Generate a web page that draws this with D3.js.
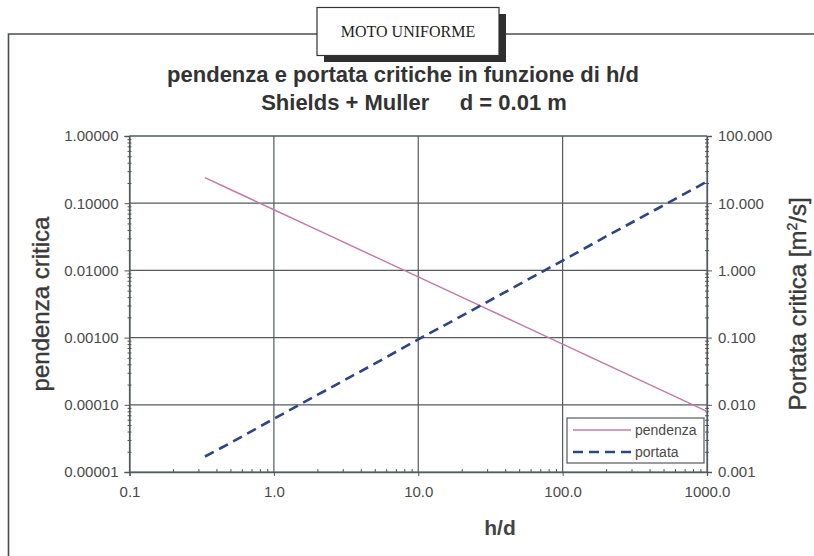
<!DOCTYPE html>
<html>
<head>
<meta charset="utf-8">
<script src="https://cdn.jsdelivr.net/npm/d3@7"></script>
<style>
  body { margin: 0; background: #fff; }
  svg text { font-family: "Liberation Sans", Arial, sans-serif; }
</style>
</head>
<body>
<div id="chart"></div>
<script>
// h/d values and the two curves
const hd       = [0.333, 0.5, 1, 2, 5, 10, 20, 50, 100, 200, 500, 1000]
const pendenza = [0.24, 0.16, 0.08, 0.04, 0.016, 0.008, 0.004, 0.0016, 0.0008, 0.0004, 0.00016, 0.00008]
const portata  = [0.0017, 0.0027, 0.0062, 0.014, 0.041, 0.094, 0.21, 0.62, 1.4, 3.2, 9.3, 21]

const xTicks = [0.1, 1, 10, 100, 1000]
const yLeftTicks = [0.00001, 0.0001, 0.001, 0.01, 0.1, 1]
const yRightTicks = [0.001, 0.01, 0.1, 1, 10, 100]
const seriesNames = ['pendenza', 'portata']

const W = 814, H = 556
const margin = {top: 136, left: 129.5, right: 814 - 707, bottom: 556 - 472}
const width = W - margin.left - margin.right
const height = H - margin.top - margin.bottom

const svg = d3.select('#chart').append('svg')
  .attr('width', W).attr('height', H)

// outer frame with the title box
const frameCol = '#4a4f52'
svg.append('path')
  .attr('d', 'M8.5,556 V34 H317 M499,34 H814')
  .attr('fill', 'none').attr('stroke', frameCol).attr('stroke-width', 1.6)
svg.append('rect').attr('x', 324).attr('y', 14).attr('width', 182).attr('height', 48)
  .attr('fill', '#2f2f2f')
svg.append('rect').attr('x', 317).attr('y', 7.5).attr('width', 182).attr('height', 48)
  .attr('fill', '#fff').attr('stroke', '#333').attr('stroke-width', 1.2)
svg.append('text').attr('x', 408).attr('y', 37).attr('text-anchor', 'middle')
  .style('font-family', '"Liberation Serif", "Times New Roman", serif')
  .style('font-size', '16px').attr('fill', '#222')
  .text('MOTO UNIFORME')

// titles
svg.append('text').attr('x', 403).attr('y', 82).attr('text-anchor', 'middle')
  .style('font-size', '22px').style('font-weight', 'bold').attr('fill', '#333')
  .text('pendenza e portata critiche in funzione di h/d')
svg.append('text').attr('x', 414).attr('y', 110).attr('text-anchor', 'middle')
  .style('font-size', '22px').style('font-weight', 'bold').attr('fill', '#333')
  .attr('xml:space', 'preserve')
  .text('Shields + Muller     d = 0.01 m')

const g = svg.append('g')
  .attr('transform', 'translate(' + margin.left + ',' + margin.top + ')')

const x = d3.scaleLog().domain([0.1, 1000]).range([0, width])
const yL = d3.scaleLog().domain([0.00001, 1]).range([height, 0])
const yR = d3.scaleLog().domain([0.001, 100]).range([height, 0])

const gridCol = '#555b5e'
// grid lines
g.append('g').selectAll('line').data(xTicks).join('line')
  .attr('x1', d => x(d)).attr('x2', d => x(d)).attr('y1', 0).attr('y2', height)
  .attr('stroke', gridCol).attr('stroke-width', 1.2)
g.append('g').selectAll('line').data(yLeftTicks).join('line')
  .attr('y1', d => yL(d)).attr('y2', d => yL(d)).attr('x1', 0).attr('x2', width)
  .attr('stroke', gridCol).attr('stroke-width', 1.2)

// axes
const tickCol = '#555'
const labCol = '#4a4a4a'
function styleAxis(sel) {
  sel.select('.domain').attr('stroke', gridCol).attr('stroke-width', 1.3)
  sel.selectAll('.tick line').attr('stroke', tickCol)
  sel.selectAll('.tick text').attr('fill', labCol).style('font-size', '15px')
}
const minorOf = (scale, majors) => scale.ticks().filter(t => !majors.some(m => Math.abs(m - t) / m < 1e-6))

const xAx = g.append('g').attr('transform', 'translate(0,' + height + ')')
  .call(d3.axisBottom(x).tickValues(xTicks).tickFormat(d3.format('.1f')).tickSize(4).tickPadding(10))
xAx.call(styleAxis)
g.append('g').attr('transform', 'translate(0,' + height + ')')
  .call(d3.axisTop(x).tickValues(minorOf(x, xTicks)).tickFormat('').tickSize(3))
  .call(s => { s.select('.domain').remove(); s.selectAll('line').attr('stroke', tickCol) })

const yLAx = g.append('g')
  .call(d3.axisLeft(yL).tickValues(yLeftTicks).tickFormat(d3.format('.5f')).tickSize(5).tickPadding(6))
yLAx.call(styleAxis)
g.append('g').attr('transform', 'translate(2,0)')
  .call(d3.axisLeft(yL).tickValues(minorOf(yL, yLeftTicks)).tickFormat('').tickSize(4))
  .call(s => { s.select('.domain').remove(); s.selectAll('line').attr('stroke', tickCol) })

const yRAx = g.append('g').attr('transform', 'translate(' + width + ',0)')
  .call(d3.axisRight(yR).tickValues(yRightTicks).tickFormat(d3.format('.3f')).tickSize(5).tickPadding(6))
yRAx.call(styleAxis)
g.append('g').attr('transform', 'translate(' + (width - 2) + ',0)')
  .call(d3.axisRight(yR).tickValues(minorOf(yR, yRightTicks)).tickFormat('').tickSize(4))
  .call(s => { s.select('.domain').remove(); s.selectAll('line').attr('stroke', tickCol) })

// top border
g.append('line').attr('x1', 0).attr('x2', width).attr('y1', 0).attr('y2', 0)
  .attr('stroke', gridCol).attr('stroke-width', 1.2)

// series
const pendCol = '#c47aa8'
const portCol = '#2c4585'
g.append('path').datum(d3.zip(hd, pendenza))
  .attr('d', d3.line().x(d => x(d[0])).y(d => yL(d[1])))
  .attr('fill', 'none').attr('stroke', pendCol).attr('stroke-width', 1.5)
g.append('path').datum(d3.zip(hd, portata))
  .attr('d', d3.line().x(d => x(d[0])).y(d => yR(d[1])))
  .attr('fill', 'none').attr('stroke', portCol).attr('stroke-width', 2.6)
  .attr('stroke-dasharray', '10,6')

// legend
const lg = svg.append('g').attr('transform', 'translate(567,418)')
lg.append('rect').attr('width', 137).attr('height', 45)
  .attr('fill', '#fff').attr('stroke', gridCol).attr('stroke-width', 1.2)
const legendStyle = [
  {col: pendCol, w: 1.5, dash: null},
  {col: portCol, w: 2.6, dash: '10,6'}
]
seriesNames.forEach((name, i) => {
  const yy = 12 + i * 22
  lg.append('line').attr('x1', 6).attr('x2', 64).attr('y1', yy).attr('y2', yy)
    .attr('stroke', legendStyle[i].col).attr('stroke-width', legendStyle[i].w)
    .attr('stroke-dasharray', legendStyle[i].dash)
  lg.append('text').attr('x', 68).attr('y', yy + 5)
    .style('font-size', '14px').attr('fill', labCol).text(name)
})

// axis titles
svg.append('text').attr('x', 500).attr('y', 535).attr('text-anchor', 'middle')
  .style('font-size', '21px').style('font-weight', 'bold').attr('fill', '#444')
  .text('h/d')
svg.append('text').attr('transform', 'translate(49,304) rotate(-90)').attr('text-anchor', 'middle')
  .style('font-size', '24px').attr('fill', '#3a3a3a').attr('stroke', '#3a3a3a').attr('stroke-width', 0.4)
  .text('pendenza critica')
const rt = svg.append('text').attr('transform', 'translate(806,304) rotate(-90)').attr('text-anchor', 'middle')
  .style('font-size', '24px').attr('fill', '#3a3a3a').attr('stroke', '#3a3a3a').attr('stroke-width', 0.4)
rt.append('tspan').text('Portata critica [m')
rt.append('tspan').attr('dy', -9).style('font-size', '14px').text('2')
rt.append('tspan').attr('dy', 9).text('/s]')
</script>
</body>
</html>
